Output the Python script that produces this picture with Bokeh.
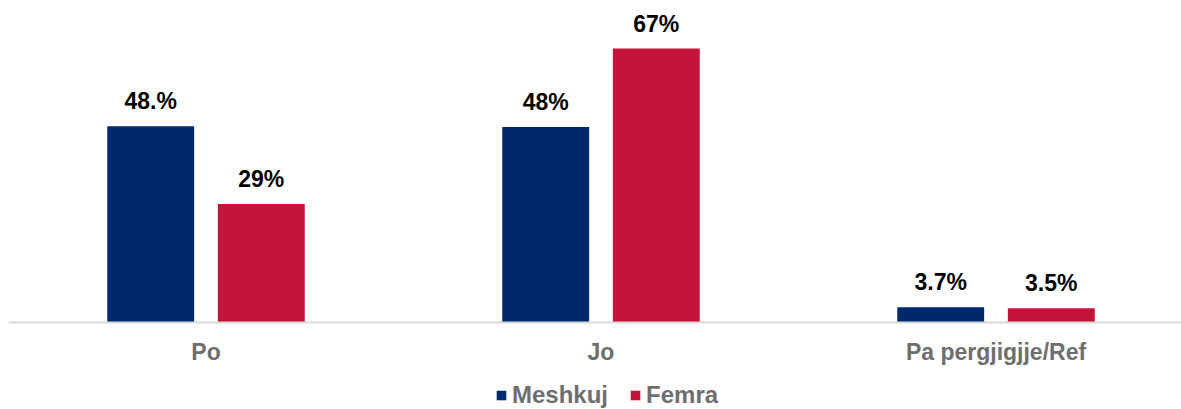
from bokeh.plotting import figure
from bokeh.models import ColumnDataSource, Range1d, LabelSet, Legend, LegendItem, Span
from bokeh.core.properties import value
from bokeh.embed import file_html
from bokeh.resources import INLINE

categories = ["Po", "Jo", "Pa pergjigjje/Ref"]
series = ["Meshkuj", "Femra"]
meshkuj = [48.0, 47.8, 3.7]
femra = [29.0, 67.0, 3.5]
meshkuj_labels = ["48.%", "48%", "3.7%"]
femra_labels = ["29%", "67%", "3.5%"]
colors = ["#00296B", "#C5133A"]

xs = [i + 0.5 for i in range(len(categories))]
off = 0.14
bw = 0.22
ytop = 76.8
ybot = -ytop * 87 / 314

p = figure(width=1181, height=409, output_backend="svg", toolbar_location=None,
           x_range=Range1d(0, 1173 / 395), y_range=Range1d(ybot, ytop),
           min_border_left=8, min_border_right=0, min_border_top=8, min_border_bottom=0)
p.outline_line_color = None
p.xgrid.visible = False
p.ygrid.visible = False
p.xaxis.visible = False
p.yaxis.visible = False

src_m = ColumnDataSource(dict(x=[x - off for x in xs], top=meshkuj, lab=meshkuj_labels))
src_f = ColumnDataSource(dict(x=[x + off for x in xs], top=femra, lab=femra_labels))
r1 = p.vbar(x="x", top="top", width=bw, bottom=0, source=src_m, fill_color=colors[0], line_color=None)
r2 = p.vbar(x="x", top="top", width=bw, bottom=0, source=src_f, fill_color=colors[1], line_color=None)

# category axis line
p.add_layout(Span(location=0, dimension="width", line_color="#D9D9D9", line_width=2))

for src in (src_m, src_f):
    p.add_layout(LabelSet(x="x", y="top", text="lab", source=src, text_align="center",
                          text_baseline="alphabetic", y_offset=17,
                          text_font=value("Liberation Sans"), text_font_style="bold",
                          text_font_size="23px", text_color="#000000"))

cat_src = ColumnDataSource(dict(x=xs, y=[0] * len(xs), lab=categories))
p.add_layout(LabelSet(x="x", y="y", text="lab", source=cat_src, text_align="center",
                      text_baseline="alphabetic", y_offset=-37,
                      text_font=value("Liberation Sans"), text_font_style="bold",
                      text_font_size="23px", text_color="#6E6E6E"))

legend = Legend(items=[LegendItem(label=series[0], renderers=[r1]),
                       LegendItem(label=series[1], renderers=[r2])],
                orientation="horizontal", location=(487, 0),
                glyph_width=12, glyph_height=12, label_standoff=5, spacing=21,
                padding=0, margin=0, border_line_color=None, background_fill_alpha=0,
                label_text_font="Liberation Sans", label_text_font_style="bold",
                label_text_font_size="24px", label_text_color="#6E6E6E")
p.add_layout(legend, "center")

open("out.html", "w").write(file_html(p, INLINE))
